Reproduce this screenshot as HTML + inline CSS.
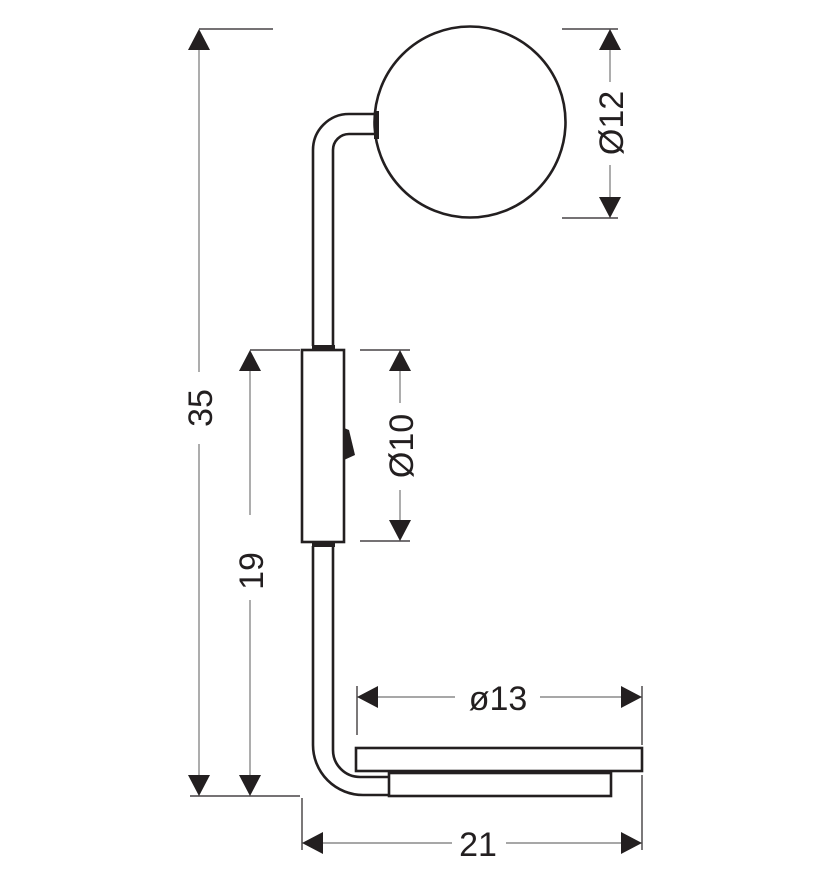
<!DOCTYPE html>
<html><head><meta charset="utf-8"><style>
html,body{margin:0;padding:0;background:#fff;}
svg{display:block;}
text{font-family:"Liberation Sans",sans-serif;font-size:34px;fill:#231f20;}
</style></head><body>
<svg width="828" height="886" viewBox="0 0 828 886" xmlns="http://www.w3.org/2000/svg">
<g fill="none" stroke="#231f20" stroke-width="2.6">
 <!-- sphere -->
 <circle cx="470" cy="122" r="95.5"/>
 <!-- upper tube -->
 <path d="M313 346 V150 A36 36 0 0 1 349 114 H377"/>
 <path d="M333 346 V150 A16 16 0 0 1 349 134 H377"/>
 <!-- switch body -->
 <rect x="302" y="350" width="42" height="192"/>
 <!-- lower tube -->
 <path d="M313 546 V745 A50 50 0 0 0 363 795 H389"/>
 <path d="M333 546 V750 A27 27 0 0 0 360 777 H389"/>
 <!-- base -->
 <rect x="356" y="748" width="286" height="23"/>
 <rect x="389" y="773" width="222" height="23"/>
</g>
<g fill="#231f20">
 <rect x="374" y="111" width="5" height="28"/>
 <rect x="312" y="345" width="23" height="5"/>
 <rect x="312" y="542" width="23" height="5"/>
 <path d="M344 428 L349 430 L355 455 L344 460 Z"/>
</g>
<!-- extension lines -->
<g stroke="#231f20" stroke-width="1.2" fill="none">
 <path d="M199 29 H273"/>
 <path d="M190 796 H300"/>
 <path d="M250 350 H300"/>
 <path d="M360 350 H410"/>
 <path d="M360 541 H410"/>
 <path d="M562 29 H618"/>
 <path d="M562 218 H618"/>
 <path d="M357 686 V735"/>
 <path d="M642 686 V745"/>
 <path d="M302 798 V850"/>
 <path d="M642 775 V850"/>
</g>
<!-- dimension lines -->
<g stroke="#8a8a8a" stroke-width="1.4" fill="none">
 <path d="M199 45 V372 M199 444 V780"/>
 <path d="M250 365 V515 M250 600 V780"/>
 <path d="M400 365 V403 M400 490 V525"/>
 <path d="M610 45 V82 M610 165 V202"/>
 <path d="M373 697 H455 M540 697 H626"/>
 <path d="M318 843 H452 M506 843 H626"/>
</g>
<!-- arrowheads -->
<g fill="#231f20">
 <path d="M199 29 L188 50 L210 50 Z"/>
 <path d="M199 796 L188 775 L210 775 Z"/>
 <path d="M250 350 L239 371 L261 371 Z"/>
 <path d="M250 796 L239 775 L261 775 Z"/>
 <path d="M400 350 L389 371 L411 371 Z"/>
 <path d="M400 541 L389 520 L411 520 Z"/>
 <path d="M610 29 L599 50 L621 50 Z"/>
 <path d="M610 218 L599 197 L621 197 Z"/>
 <path d="M357 697 L378 686 L378 708 Z"/>
 <path d="M642 697 L621 686 L621 708 Z"/>
 <path d="M302 843 L323 832 L323 854 Z"/>
 <path d="M642 843 L621 832 L621 854 Z"/>
</g>
<!-- labels -->
<text transform="translate(212,408) rotate(-90)" text-anchor="middle">35</text>
<text transform="translate(263,571) rotate(-90)" text-anchor="middle">19</text>
<text transform="translate(413,446) rotate(-90)" text-anchor="middle">Ø10</text>
<text transform="translate(623,123) rotate(-90)" text-anchor="middle">Ø12</text>
<text x="498" y="710" text-anchor="middle">ø13</text>
<text x="478" y="856" text-anchor="middle">21</text>
</svg>
</body></html>
